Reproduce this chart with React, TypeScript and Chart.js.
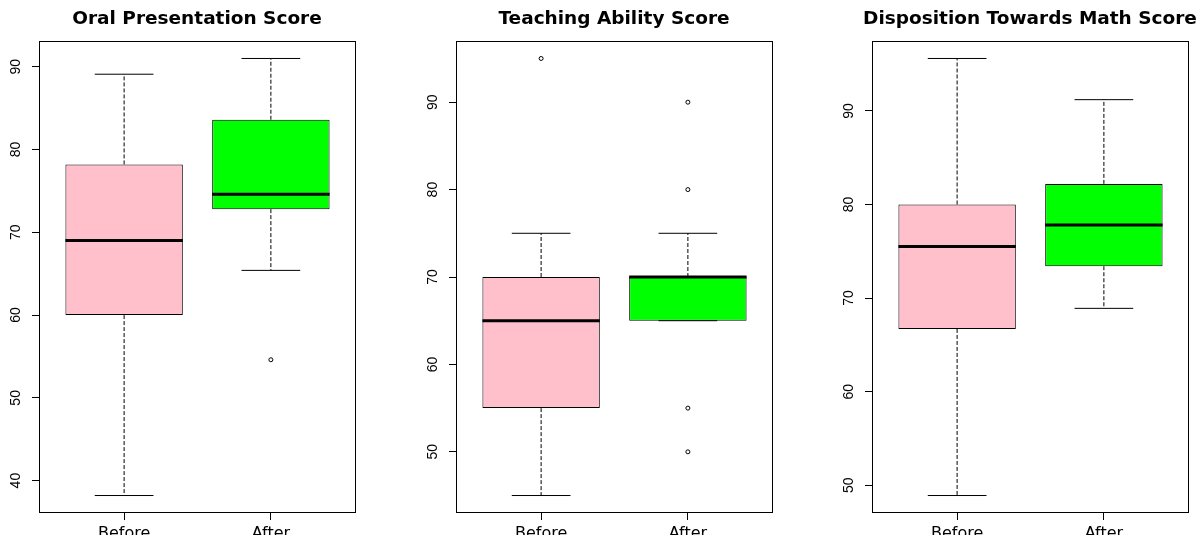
import React, { useEffect, useRef } from "react";
import { Chart, registerables } from "chart.js";

Chart.register(...registerables);

// ---- data ----
const groups = ["Before", "After"];
const titles = [
  "Oral Presentation Score",
  "Teaching Ability Score",
  "Disposition Towards Math Score",
];

// five-number summaries: [lower whisker, Q1, median, Q3, upper whisker]
const oralBefore = [38.2, 60.0, 69.0, 78.2, 89.1];
const oralAfter = [65.4, 72.8, 74.6, 83.6, 91.0];
const oralOutliers = [[], [54.6]];
const oralTicks = [40, 50, 60, 70, 80, 90];

const teachBefore = [45, 55, 65, 70, 75];
const teachAfter = [65, 65, 70, 70, 75];
const teachOutliers = [[95], [90, 80, 55, 50]];
const teachTicks = [50, 60, 70, 80, 90];

const mathBefore = [48.9, 66.7, 75.5, 80.0, 95.6];
const mathAfter = [68.9, 73.4, 77.8, 82.2, 91.2];
const mathOutliers = [[], []];
const mathTicks = [50, 60, 70, 80, 90];

const boxColors = ["#FFC0CB", "#00FF00"];

const panels = [
  { title: titles[0], stats: [oralBefore, oralAfter], outliers: oralOutliers, ticks: oralTicks },
  { title: titles[1], stats: [teachBefore, teachAfter], outliers: teachOutliers, ticks: teachTicks },
  { title: titles[2], stats: [mathBefore, mathAfter], outliers: mathOutliers, ticks: mathTicks },
];

// ---- layout ----
const canvasLefts = [-3, 414, 830];
const CANVAS_W = 400;
const CANVAS_H = 535;
const LEFT_W = 42;
const RIGHT_W = 41;

const framePlugin = {
  id: "frame",
  afterDatasetsDraw(chart: any) {
    const { ctx, chartArea } = chart;
    ctx.save();
    ctx.strokeStyle = "#000";
    ctx.lineWidth = 1;
    ctx.strokeRect(
      Math.round(chartArea.left) + 0.5,
      Math.round(chartArea.top) + 0.5,
      Math.round(chartArea.right - chartArea.left) - 1,
      Math.round(chartArea.bottom - chartArea.top) - 1
    );
    ctx.restore();
  },
};

function buildConfig(p: any) {
  const all = [...p.stats.flat(), ...p.outliers.flat()];
  const lo = Math.min(...all);
  const hi = Math.max(...all);
  const ext = (hi - lo) * 0.04;
  const n = groups.length;
  const xExt = n * 0.04;

  const lineBase = {
    type: "line",
    borderColor: "#000",
    borderWidth: 1,
    pointRadius: 0,
    fill: false,
    tension: 0,
    borderCapStyle: "butt",
  };

  const datasets: any[] = [];
  p.stats.forEach((s: number[], i: number) => {
    const x = i + 1;
    // whiskers (dashed)
    datasets.push({ ...lineBase, data: [{ x, y: s[3] }, { x, y: s[4] }], borderDash: [4, 2], order: 4 });
    datasets.push({ ...lineBase, data: [{ x, y: s[1] }, { x, y: s[0] }], borderDash: [4, 2], order: 4 });
    // staples
    datasets.push({ ...lineBase, data: [{ x: x - 0.2, y: s[4] }, { x: x + 0.2, y: s[4] }], order: 3 });
    datasets.push({ ...lineBase, data: [{ x: x - 0.2, y: s[0] }, { x: x + 0.2, y: s[0] }], order: 3 });
    // median
    datasets.push({ ...lineBase, data: [{ x: x - 0.4, y: s[2] }, { x: x + 0.4, y: s[2] }], borderWidth: 3, order: 1 });
  });
  datasets.push({
    type: "bar",
    data: p.stats.map((s: number[], i: number) => ({ x: i + 1, y: [s[1], s[3]] })),
    backgroundColor: boxColors,
    borderColor: "#000",
    borderWidth: 1,
    borderSkipped: false,
    barPercentage: 1,
    categoryPercentage: 0.8,
    order: 2,
  });
  datasets.push({
    type: "scatter",
    data: p.outliers.flatMap((o: number[], i: number) => o.map((y) => ({ x: i + 1, y }))),
    pointRadius: 2,
    pointBackgroundColor: "#fff",
    pointBorderColor: "#000",
    pointBorderWidth: 1,
    order: 0,
  });

  return {
    type: "bar",
    data: { datasets },
    options: {
      animation: false,
      responsive: false,
      devicePixelRatio: 1,
      layout: { padding: 0 },
      plugins: {
        legend: { display: false },
        tooltip: { enabled: false },
        title: {
          display: true,
          text: p.title,
          color: "#000",
          font: { family: "'DejaVu Sans', sans-serif", size: 18.5, weight: "bold", lineHeight: 1.2 },
          padding: { top: 8.5, bottom: 10.3 },
        },
      },
      scales: {
        x: {
          type: "linear",
          min: 0.5 - xExt,
          max: n + 0.5 + xExt,
          offset: false,
          afterBuildTicks: (scale: any) => {
            scale.ticks = groups.map((_, i) => ({ value: i + 1 }));
          },
          afterFit: (scale: any) => {
            scale.height = 22;
          },
          ticks: {
            autoSkip: false,
            maxRotation: 0,
            minRotation: 0,
            padding: 4,
            color: "#000",
            font: { family: "'DejaVu Sans', sans-serif", size: 16 },
            callback: (v: any) => groups[Math.round(v) - 1] ?? "",
          },
          grid: {
            display: true,
            offset: false,
            drawOnChartArea: false,
            drawTicks: true,
            tickLength: 7,
            color: "#000",
            lineWidth: 1,
          },
          border: { display: false },
        },
        y: {
          type: "linear",
          position: "left",
          min: lo - ext,
          max: hi + ext,
          beginAtZero: false,
          afterBuildTicks: (scale: any) => {
            scale.ticks = p.ticks.map((v: number) => ({ value: v }));
          },
          afterFit: (scale: any) => {
            scale.width = LEFT_W;
          },
          ticks: {
            autoSkip: false,
            minRotation: 90,
            maxRotation: 90,
            crossAlign: "center",
            padding: 8,
            color: "#000",
            font: { family: "'Liberation Sans', Arial, sans-serif", size: 14 },
          },
          grid: {
            display: true,
            drawOnChartArea: false,
            drawTicks: true,
            tickLength: 7,
            color: "#000",
            lineWidth: 1,
          },
          border: { display: false },
        },
        yRight: {
          type: "linear",
          position: "right",
          display: true,
          min: 0,
          max: 1,
          ticks: { display: false },
          grid: { display: false, drawTicks: false },
          border: { display: false },
          afterFit: (scale: any) => {
            scale.width = RIGHT_W;
          },
        },
      },
    },
    plugins: [framePlugin],
  };
}

function BoxPanel({ index }: { index: number }) {
  const ref = useRef<HTMLCanvasElement | null>(null);
  useEffect(() => {
    if (!ref.current) return;
    const chart = new Chart(ref.current, buildConfig(panels[index]) as any);
    return () => chart.destroy();
  }, [index]);
  return (
    <canvas
      ref={ref}
      width={CANVAS_W}
      height={CANVAS_H}
      style={{
        position: "absolute",
        left: canvasLefts[index],
        top: 0,
        width: CANVAS_W,
        height: CANVAS_H,
        display: "block",
      }}
    />
  );
}

export default function App() {
  return (
    <div
      style={{
        position: "fixed",
        left: 0,
        top: 0,
        width: 1201,
        height: 535,
        overflow: "hidden",
        background: "#fff",
      }}
    >
      {panels.map((_, i) => (
        <BoxPanel key={i} index={i} />
      ))}
    </div>
  );
}
